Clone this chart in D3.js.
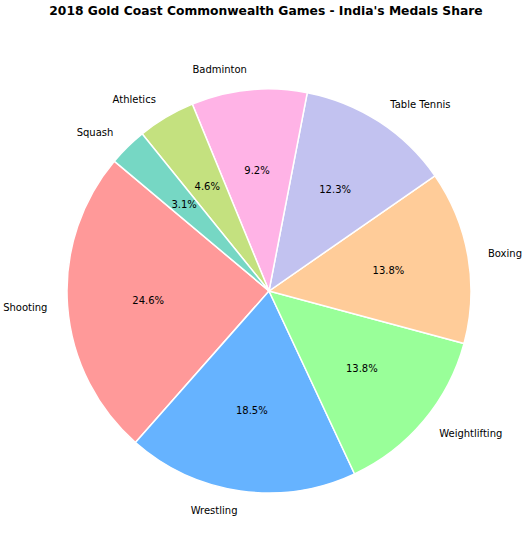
<!DOCTYPE html>
<html lang="en">

<head>
    <meta charset="utf-8">
    <title>India Medals Share</title>
    <script type="text/javascript" src="https://d3js.org/d3.v7.min.js"></script>
    <style type="text/css">
        body {
            margin: 0;
            background: white;
        }

        text {
            font-family: "DejaVu Sans", sans-serif;
        }
    </style>
</head>

<body>
    <svg width="528" height="550"></svg>
    <script type="text/javascript">
        //Medal counts by sport
        const sports = ['Shooting', 'Wrestling', 'Weightlifting', 'Boxing',
            'Table Tennis', 'Badminton', 'Athletics', 'Squash']
        const medals = [16, 12, 9, 9, 8, 6, 3, 2]
        const colors = ['#ff9999', '#66b3ff', '#99ff99', '#ffcc99',
            '#c2c2f0', '#ffb3e6', '#c4e17f', '#76d7c4']

        const dataset = sports.map((s, i) => ({ sport: s, value: medals[i], color: colors[i] }))

        const svg = d3.select("svg");
        const cx = 269;
        const cy = 291;
        const r = 202;
        const startDeg = 140; //counterclockwise from 3 o'clock

        //Title
        svg.append('text')
            .attr('x', 266)
            .attr('y', 15)
            .attr('text-anchor', 'middle')
            .style('font-size', '12.3px')
            .style('font-weight', 'bold')
            .text("2018 Gold Coast Commonwealth Games - India's Medals Share")

        //d3 angles go clockwise from 12 o'clock, so run counterclockwise
        const a0 = (90 - startDeg) * Math.PI / 180
        const pie = d3.pie()
            .sort(null)
            .value(d => d.value)
            .startAngle(a0)
            .endAngle(a0 - 2 * Math.PI);

        const arcs = pie(dataset);
        const total = d3.sum(medals);

        const arc = d3.arc()
            .innerRadius(0)
            .outerRadius(r);

        const g = svg.append('g')
            .attr('transform', 'translate(' + cx + ',' + cy + ')')

        g.selectAll('path')
            .data(arcs)
            .enter()
            .append('path')
            .attr('d', arc)
            .style('fill', d => d.data.color)
            .style('stroke', 'white')
            .style('stroke-width', 1.5)

        //Position helper: radius factor -> [x, y]
        const pos = (d, k) => {
            const mid = (d.startAngle + d.endAngle) / 2
            return [k * r * Math.sin(mid), -k * r * Math.cos(mid)]
        }

        //Sport labels outside
        g.selectAll('.label')
            .data(arcs)
            .enter()
            .append('text')
            .attr('class', 'label')
            .attr('x', d => pos(d, 1.1)[0])
            .attr('y', d => pos(d, 1.1)[1])
            .attr('dy', '0.35em')
            .attr('text-anchor', d => pos(d, 1.1)[0] > 0 ? 'start' : 'end')
            .style('font-size', '10px')
            .text(d => d.data.sport)

        //Percent labels inside
        g.selectAll('.pct')
            .data(arcs)
            .enter()
            .append('text')
            .attr('class', 'pct')
            .attr('x', d => pos(d, 0.6)[0])
            .attr('y', d => pos(d, 0.6)[1])
            .attr('dy', '0.35em')
            .attr('text-anchor', 'middle')
            .style('font-size', '10px')
            .text(d => (d.data.value / total * 100).toFixed(1) + '%')
    </script>
</body>

</html>
